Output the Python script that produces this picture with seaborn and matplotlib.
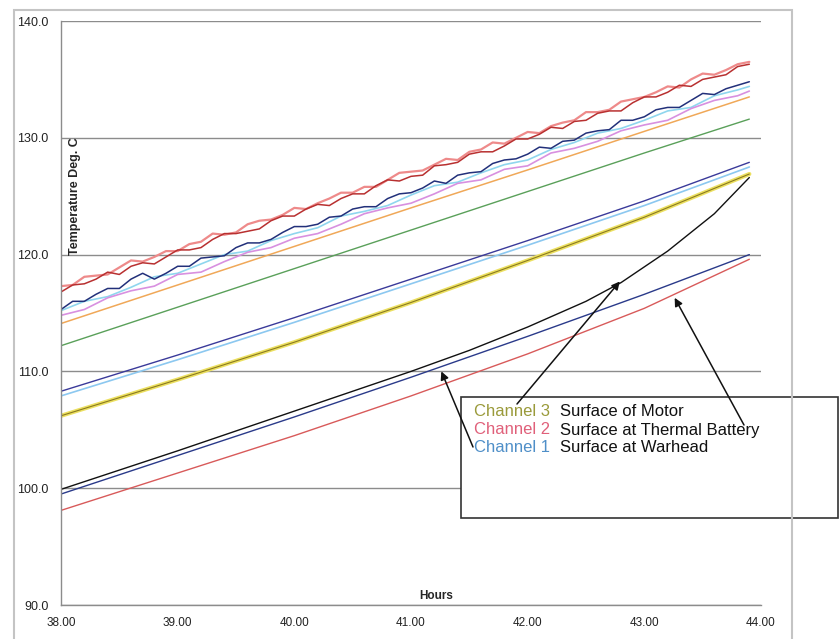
# Temperature vs hours, three surface channels
import pandas as pd
import seaborn as sns
import matplotlib.pyplot as plt
from matplotlib.patches import Rectangle

# dense noisy traces, every 0.1 h
HOURS_F = [38.0, 38.1, 38.2, 38.3, 38.4, 38.5, 38.6, 38.7, 38.8, 38.9,
           39.0, 39.1, 39.2, 39.3, 39.4, 39.5, 39.6, 39.7, 39.8, 39.9,
           40.0, 40.1, 40.2, 40.3, 40.4, 40.5, 40.6, 40.7, 40.8, 40.9,
           41.0, 41.1, 41.2, 41.3, 41.4, 41.5, 41.6, 41.7, 41.8, 41.9,
           42.0, 42.1, 42.2, 42.3, 42.4, 42.5, 42.6, 42.7, 42.8, 42.9,
           43.0, 43.1, 43.2, 43.3, 43.4, 43.5, 43.6, 43.7, 43.8, 43.9]
red_a = [116.8, 117.4, 117.5, 117.9, 118.5, 118.3, 119.0, 119.3, 119.2, 119.8,
         120.4, 120.4, 120.6, 121.3, 121.8, 121.8, 122.0, 122.2, 122.9, 123.3,
         123.3, 123.9, 124.3, 124.2, 124.8, 125.2, 125.2, 125.9, 126.4, 126.3,
         126.7, 126.8, 127.6, 127.7, 127.9, 128.6, 128.8, 128.8, 129.3, 129.9,
         129.9, 130.3, 130.9, 130.8, 131.4, 131.5, 132.1, 132.3, 132.3, 133.0,
         133.5, 133.5, 133.9, 134.5, 134.4, 135.0, 135.2, 135.4, 136.1, 136.3]
red_b = [117.3, 117.4, 118.1, 118.2, 118.3, 118.9, 119.5, 119.4, 119.8, 120.3,
         120.3, 120.9, 121.1, 121.8, 121.7, 121.9, 122.6, 122.9, 123.0, 123.4,
         124.0, 123.9, 124.4, 124.8, 125.3, 125.3, 125.8, 125.8, 126.4, 127.0,
         127.1, 127.2, 127.7, 128.2, 128.1, 128.8, 129.0, 129.6, 129.5, 130.0,
         130.5, 130.4, 131.0, 131.3, 131.5, 132.2, 132.2, 132.4, 133.1, 133.3,
         133.5, 133.9, 134.4, 134.3, 135.0, 135.5, 135.4, 135.8, 136.3, 136.5]
navy_noisy = [115.3, 116.0, 116.0, 116.6, 117.1, 117.1, 117.9, 118.4, 117.9, 118.4,
              119.0, 119.0, 119.7, 119.8, 119.9, 120.6, 121.0, 121.0, 121.3, 121.9,
              122.4, 122.4, 122.6, 123.2, 123.3, 123.9, 124.1, 124.1, 124.8, 125.2,
              125.3, 125.7, 126.3, 126.1, 126.8, 127.0, 127.1, 127.8, 128.1, 128.2,
              128.6, 129.2, 129.1, 129.7, 129.8, 130.4, 130.6, 130.7, 131.5, 131.5,
              131.8, 132.4, 132.6, 132.6, 133.2, 133.8, 133.7, 134.2, 134.5, 134.8]

# lighter noisy traces, every 0.2 h
HOURS = [38.0, 38.2, 38.4, 38.6, 38.8, 39.0, 39.2, 39.4, 39.6, 39.8,
         40.0, 40.2, 40.4, 40.6, 40.8, 41.0, 41.2, 41.4, 41.6, 41.8,
         42.0, 42.2, 42.4, 42.6, 42.8, 43.0, 43.2, 43.4, 43.6, 43.8, 43.9]
cyan_noisy = [115.2, 116.0, 116.4, 117.2, 118.1, 118.4, 119.2, 120.0, 120.3, 121.2,
              121.8, 122.3, 123.3, 123.7, 124.2, 125.1, 125.9, 126.2, 127.0, 127.7,
              128.1, 129.0, 129.6, 130.4, 130.8, 131.5, 132.3, 132.6, 133.6, 134.1, 134.4]
pink_noisy = [114.8, 115.3, 116.3, 116.9, 117.3, 118.3, 118.5, 119.4, 120.2, 120.6,
              121.4, 121.8, 122.6, 123.5, 124.0, 124.4, 125.2, 126.1, 126.4, 127.3,
              127.6, 128.7, 129.1, 129.7, 130.6, 131.1, 131.5, 132.5, 133.2, 133.6, 134.0]

# smoother traces, every hour
HOURS_S = [38.0, 39.0, 40.0, 41.0, 42.0, 43.0, 43.9]
orange = [114.1, 117.4, 120.7, 124.0, 127.25, 130.55, 133.5]
green = [112.2, 115.5, 118.8, 122.1, 125.4, 128.7, 131.6]
purple = [108.3, 111.4, 114.6, 117.9, 121.2, 124.6, 127.9]
lightblue = [107.9, 111.0, 114.2, 117.5, 120.8, 124.2, 127.5]
yellow = [106.2, 109.3, 112.5, 115.9, 119.5, 123.2, 126.9]
navy_low = [99.5, 102.8, 106.1, 109.5, 113.0, 116.6, 120.0]
red_low = [98.1, 101.3, 104.5, 107.9, 111.5, 115.4, 119.6]

HOURS_K = [38.0, 39.0, 40.0, 41.0, 41.5, 42.0, 42.5, 42.8, 43.2, 43.6, 43.9]
black = [99.9, 103.2, 106.6, 110.0, 111.8, 113.8, 116.0, 117.6, 120.3, 123.5, 126.6]

x_ticks = [38, 39, 40, 41, 42, 43, 44]
y_ticks = [90, 100, 110, 120, 130, 140]

legend_rows = [("Channel 3", "Surface of Motor", "#9a9a3a"),
               ("Channel 2", "Surface at Thermal Battery", "#e0607a"),
               ("Channel 1", "Surface at Warhead", "#4f8fc8")]

sns.set_style("white")
plt.rcParams['font.family'] = ['Liberation Sans', 'DejaVu Sans']

fig = plt.figure(figsize=(8.39, 6.39), dpi=100)
ax = fig.add_axes([61 / 839, 1 - 605 / 639, 700 / 839, 584 / 639])

# outer chart frame
fig.patches.append(Rectangle((14 / 839, -0.02), 778 / 839, 1.004, transform=fig.transFigure,
                             fill=False, edgecolor="#c4c4c4", lw=1.5, zorder=0))

series = [
    (HOURS, cyan_noisy, "#8fd6ee", 1.2),
    (HOURS, pink_noisy, "#d890e0", 1.2),
    (HOURS_F, navy_noisy, "#22307a", 1.1),
    (HOURS_F, red_b, "#ee8a8a", 1.6),
    (HOURS_F, red_a, "#b83030", 1.1),
    (HOURS_S, orange, "#f0a858", 1.1),
    (HOURS_S, green, "#5aa05a", 1.0),
    (HOURS_S, lightblue, "#8cc8f0", 1.2),
    (HOURS_S, purple, "#3a3a9a", 1.0),
    (HOURS_S, yellow, "#ece060", 3.0),
    (HOURS_S, yellow, "#8a7a20", 0.8),
    (HOURS_S, red_low, "#d85a5a", 1.0),
    (HOURS_S, navy_low, "#2a3a8a", 1.0),
    (HOURS_K, black, "#111111", 1.0),
]
for xs, ys, color, lw in series:
    df = pd.DataFrame({"hours": xs, "temp": ys})
    sns.lineplot(data=df, x="hours", y="temp", color=color, lw=lw,
                 estimator=None, sort=False, legend=False, ax=ax)

ax.set_xlim(38, 44)
ax.set_ylim(90, 140)
ax.set_xticks(x_ticks)
ax.set_xticklabels([f"{v:.2f}" for v in x_ticks])
ax.set_yticks(y_ticks)
ax.set_yticklabels([f"{v:.1f}" for v in y_ticks])
ax.tick_params(axis="y", direction="out", length=4, width=1, color="#888888",
               labelsize=9, pad=5, labelcolor="#222222")
ax.tick_params(axis="x", direction="inout", length=6, width=1, color="#888888",
               labelsize=8.5, pad=6, labelcolor="#222222")
ax.grid(axis="y", color="#8c8c8c", lw=1)
for side in ["top", "right"]:
    ax.spines[side].set_visible(False)
for side in ["left", "bottom"]:
    ax.spines[side].set_color("#8c8c8c")
    ax.spines[side].set_linewidth(1)
ax.set_xlabel("")
ax.set_ylabel("")

fig.text(75 / 839, 1 - 196 / 639, "Temperature Deg. C", rotation=90, fontsize=9,
         fontweight="bold", ha="center", va="center")
fig.text(436 / 839, 1 - 596 / 639, "Hours", fontsize=8.5, fontweight="bold",
         ha="center", va="center")

# legend box, kept inside the axes so the arrows can sit on top of it
ax.add_patch(Rectangle((461 / 839, 1 - 518 / 639), 377 / 839, 121 / 639,
                       transform=fig.transFigure, facecolor="white",
                       edgecolor="#333333", lw=1.2, zorder=5, clip_on=False))
for i, (ch, desc, col) in enumerate(legend_rows):
    ypos = 1 - (412 + 18 * i) / 639
    ax.text(474 / 839, ypos, ch, color=col, fontsize=12, va="center", zorder=6,
            transform=fig.transFigure)
    ax.text(560 / 839, ypos, desc, color="#111111", fontsize=12, va="center", zorder=6,
            transform=fig.transFigure)

# arrows from the legend text to the lines
arrows = [((42.79, 117.7), (517, 639 - 404)),
          ((43.26, 116.3), (744, 639 - 425)),
          ((41.26, 110.0), (473, 639 - 447))]
for tip, tail in arrows:
    ann = ax.annotate("", xy=tip, xycoords="data", xytext=tail, textcoords="figure pixels",
                      arrowprops=dict(arrowstyle="-|>", color="#111111", lw=1.1,
                                      shrinkA=0, shrinkB=0, mutation_scale=12),
                      annotation_clip=False)
    ann.set_zorder(7)

fig.savefig("out.png", dpi=100)
